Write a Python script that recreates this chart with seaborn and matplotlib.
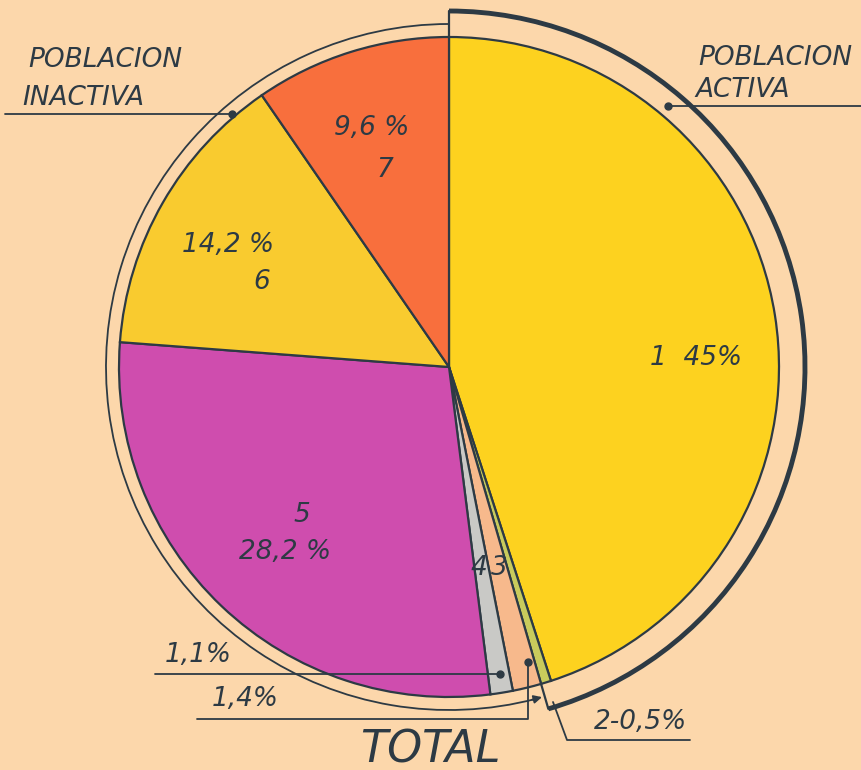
import numpy as np
import matplotlib
matplotlib.use("Agg")
import matplotlib.pyplot as plt
import seaborn as sns
from matplotlib.patches import Arc

# -----------------------------
# DATA
# -----------------------------
groups = ["1", "2", "3", "4", "5", "6", "7"]
shares = [45.0, 0.5, 1.4, 1.1, 28.2, 14.2, 9.6]
share_labels = ["45%", "0,5%", "1,4%", "1,1%", "28,2 %", "14,2 %", "9,6 %"]
colors = ["#FDD21F", "#C9CB5C", "#F7B98C", "#C9C9C6", "#CF4DAE", "#F9CB2F", "#F86F3D"]
ring_labels = ["POBLACION\nACTIVA", "POBLACION\nINACTIVA"]
title = "TOTAL"

# -----------------------------
# STYLE
# -----------------------------
sns.set_theme(style="white")
plt.rcParams["font.family"] = ["DejaVu Sans"]
bg = "#FCD7AB"
ink = "#2D3A44"

W, H = 861, 770
fig = plt.figure(figsize=(W / 100, H / 100), dpi=100, facecolor=bg)
ax = fig.add_axes([0, 0, 1, 1], facecolor=bg)


def Y(y):
    # picture rows run downwards
    return H - y


cx, cy, R = 449, Y(367), 330

wedges, _ = ax.pie(shares, colors=colors, startangle=90, counterclock=False,
                   center=(cx, cy), radius=R, frame=True,
                   wedgeprops=dict(edgecolor=ink, linewidth=1.6))
ax.set_xlim(0, W)
ax.set_ylim(0, H)
ax.axis("off")

# angle where active population ends (slices 1 and 2)
end_active = 90 - 360 * (shares[0] + shares[1]) / 100

# inactive ring (thin), going round the left side
ax.add_patch(Arc((cx, cy), 2 * 343, 2 * 343, theta1=90, theta2=360 + end_active - 1.5,
                 color=ink, lw=1.3))
tip = np.radians(end_active - 1.5)
ax.annotate("", xy=(cx + 343 * np.cos(np.radians(end_active)), cy + 343 * np.sin(np.radians(end_active))),
            xytext=(cx + 343 * np.cos(tip - 0.02), cy + 343 * np.sin(tip - 0.02)),
            arrowprops=dict(arrowstyle="-|>", color=ink, lw=1.3, mutation_scale=12))
# active ring (thick)
ax.add_patch(Arc((cx, cy), 2 * 356, 2 * 356, theta1=end_active, theta2=90,
                 color=ink, lw=3.5))
for a in (90, end_active):
    t = np.radians(a)
    ax.plot([cx + R * np.cos(t), cx + 356 * np.cos(t)],
            [cy + R * np.sin(t), cy + 356 * np.sin(t)], color=ink, lw=1.6)

txt = dict(color=ink, style="italic", fontsize=19)

# slice labels
ax.text(650, Y(358), groups[0] + "  " + share_labels[0], ha="left", va="center", **txt)
ax.text(372, Y(128), share_labels[6], ha="center", va="center", **txt)
ax.text(385, Y(170), groups[6], ha="center", va="center", **txt)
ax.text(228, Y(245), share_labels[5], ha="center", va="center", **txt)
ax.text(262, Y(282), groups[5], ha="center", va="center", **txt)
ax.text(302, Y(515), groups[4], ha="center", va="center", **txt)
ax.text(285, Y(552), share_labels[4], ha="center", va="center", **txt)
ax.text(479, Y(568), groups[3], ha="center", va="center", **txt)
ax.text(499, Y(568), groups[2], ha="center", va="center", **txt)

# small slices with leader lines
ax.text(198, Y(668), share_labels[3], ha="center", va="bottom", **txt)
ax.plot([155, 500], [Y(674), Y(674)], color=ink, lw=1.3)
ax.plot(500, Y(674), "o", color=ink, ms=5)

ax.text(245, Y(712), share_labels[2], ha="center", va="bottom", **txt)
ax.plot([197, 528, 528], [Y(719), Y(719), Y(662)], color=ink, lw=1.3)
ax.plot(528, Y(662), "o", color=ink, ms=5)

ax.text(640, Y(722), groups[1] + "-" + share_labels[1], ha="center", va="center", **txt)
ax.plot([553, 567, 690], [Y(702), Y(740), Y(740)], color=ink, lw=1.3)

# ring labels
ax.text(775, Y(58), ring_labels[0].split("\n")[0], ha="center", va="center", **txt)
ax.text(695, Y(90), ring_labels[0].split("\n")[1], ha="left", va="center", **txt)
ax.plot([668, 861], [Y(106), Y(106)], color=ink, lw=1.3)
ax.plot(668, Y(106), "o", color=ink, ms=5)

ax.text(105, Y(60), ring_labels[1].split("\n")[0], ha="center", va="center", **txt)
ax.text(22, Y(98), ring_labels[1].split("\n")[1], ha="left", va="center", **txt)
ax.plot([5, 232], [Y(114), Y(114)], color=ink, lw=1.3)
ax.plot(232, Y(114), "o", color=ink, ms=5)

ax.text(430, Y(750), title, ha="center", va="center", color=ink,
        style="italic", fontsize=32)

fig.savefig("out.png", dpi=100, facecolor=bg)
